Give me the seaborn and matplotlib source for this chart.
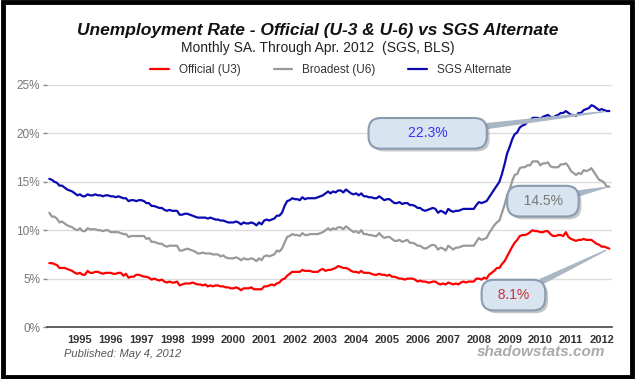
import pandas as pd
import numpy as np
import matplotlib
matplotlib.use("Agg")
import matplotlib.pyplot as plt
import matplotlib.dates as mdates
import matplotlib.patheffects as pe
import seaborn as sns

sns.set_style("white")
plt.rcParams["font.family"] = ["Liberation Sans", "DejaVu Sans"]

"Monthly data, Jan 1994 - Apr 2012 (read from the chart)"
u3 = [
    6.6, 6.6, 6.5, 6.4, 6.1, 6.1, 6.1, 6.0, 5.9, 5.8, 5.6, 5.5,
    5.6, 5.4, 5.4, 5.8, 5.6, 5.6, 5.7, 5.7, 5.6, 5.5, 5.6, 5.6,
    5.6, 5.5, 5.5, 5.6, 5.6, 5.3, 5.5, 5.1, 5.2, 5.2, 5.4, 5.4,
    5.3, 5.2, 5.2, 5.1, 4.9, 5.0, 4.9, 4.8, 4.9, 4.7, 4.6, 4.7,
    4.6, 4.6, 4.7, 4.3, 4.4, 4.5, 4.5, 4.5, 4.6, 4.5, 4.4, 4.4,
    4.3, 4.4, 4.2, 4.3, 4.2, 4.3, 4.3, 4.2, 4.2, 4.1, 4.1, 4.0,
    4.0, 4.1, 4.0, 3.8, 4.0, 4.0, 4.0, 4.1, 3.9, 3.9, 3.9, 3.9,
    4.2, 4.2, 4.3, 4.4, 4.3, 4.5, 4.6, 4.9, 5.0, 5.3, 5.5, 5.7,
    5.7, 5.7, 5.7, 5.9, 5.8, 5.8, 5.8, 5.7, 5.7, 5.7, 5.9, 6.0,
    5.8, 5.9, 5.9, 6.0, 6.1, 6.3, 6.2, 6.1, 6.1, 6.0, 5.8, 5.7,
    5.7, 5.6, 5.8, 5.6, 5.6, 5.6, 5.5, 5.4, 5.4, 5.5, 5.4, 5.4,
    5.3, 5.4, 5.2, 5.2, 5.1, 5.0, 5.0, 4.9, 5.0, 5.0, 5.0, 4.9,
    4.7, 4.8, 4.7, 4.7, 4.6, 4.6, 4.7, 4.7, 4.5, 4.4, 4.5, 4.4,
    4.6, 4.5, 4.4, 4.5, 4.4, 4.6, 4.7, 4.6, 4.7, 4.7, 4.7, 5.0,
    5.0, 4.9, 5.1, 5.0, 5.4, 5.6, 5.8, 6.1, 6.1, 6.5, 6.8, 7.3,
    7.8, 8.3, 8.7, 9.0, 9.4, 9.5, 9.5, 9.6, 9.8, 10.0, 9.9, 9.9,
    9.8, 9.8, 9.9, 9.9, 9.6, 9.4, 9.4, 9.5, 9.5, 9.4, 9.8, 9.3,
    9.1, 9.0, 8.9, 9.0, 9.0, 9.1, 9.0, 9.0, 9.0, 8.8, 8.6, 8.5,
    8.3, 8.3, 8.2, 8.1,
]
u6 = [
    11.8, 11.4, 11.4, 11.2, 10.8, 10.9, 10.7, 10.5, 10.4, 10.3, 10.1, 10.0,
    10.2, 9.9, 9.9, 10.2, 10.1, 10.1, 10.1, 10.0, 10.0, 9.9, 10.0, 10.0,
    9.8, 9.8, 9.8, 9.8, 9.7, 9.6, 9.6, 9.3, 9.4, 9.4, 9.4, 9.4,
    9.4, 9.4, 9.1, 9.2, 8.8, 8.8, 8.7, 8.6, 8.6, 8.4, 8.3, 8.4,
    8.4, 8.4, 8.4, 7.9, 7.9, 8.0, 8.1, 8.0, 7.9, 7.8, 7.6, 7.6,
    7.7, 7.6, 7.6, 7.6, 7.5, 7.5, 7.5, 7.3, 7.4, 7.2, 7.1, 7.1,
    7.1, 7.2, 7.1, 6.9, 7.1, 7.0, 7.0, 7.1, 7.0, 6.8, 7.1, 6.9,
    7.3, 7.4, 7.3, 7.4, 7.5, 7.9, 7.8, 8.1, 8.7, 9.3, 9.4, 9.6,
    9.5, 9.5, 9.4, 9.7, 9.5, 9.5, 9.6, 9.6, 9.6, 9.6, 9.7, 9.8,
    10.0, 10.2, 10.0, 10.2, 10.1, 10.3, 10.3, 10.1, 10.4, 10.2, 10.0, 9.8,
    9.9, 9.7, 10.0, 9.6, 9.6, 9.5, 9.5, 9.4, 9.4, 9.7, 9.4, 9.2,
    9.3, 9.3, 9.1, 8.9, 8.9, 9.0, 8.8, 8.9, 9.0, 8.7, 8.7, 8.6,
    8.4, 8.4, 8.2, 8.1, 8.2, 8.4, 8.5, 8.4, 8.0, 8.2, 8.1, 7.9,
    8.4, 8.2, 8.0, 8.2, 8.2, 8.3, 8.4, 8.4, 8.4, 8.4, 8.4, 8.8,
    9.2, 9.0, 9.1, 9.2, 9.7, 10.1, 10.5, 10.8, 11.0, 11.8, 12.6, 13.6,
    14.2, 15.1, 15.7, 15.8, 16.4, 16.5, 16.5, 16.7, 16.7, 17.1, 17.1, 17.1,
    16.7, 16.9, 16.9, 17.0, 16.6, 16.5, 16.5, 16.5, 16.8, 16.8, 16.9, 16.6,
    16.1, 15.9, 15.7, 15.9, 15.8, 16.2, 16.1, 16.2, 16.4, 16.0, 15.6, 15.2,
    15.1, 14.9, 14.5, 14.5,
]
sgs = [
    15.3, 15.2, 15.0, 14.9, 14.6, 14.6, 14.4, 14.2, 14.1, 14.0, 13.8, 13.6,
    13.7, 13.5, 13.5, 13.7, 13.6, 13.6, 13.7, 13.6, 13.6, 13.5, 13.6, 13.6,
    13.5, 13.5, 13.4, 13.5, 13.4, 13.3, 13.3, 13.0, 13.1, 13.1, 13.0, 13.1,
    13.1, 13.0, 12.8, 12.8, 12.5, 12.5, 12.4, 12.3, 12.3, 12.1, 12.0, 12.1,
    12.0, 12.0, 12.0, 11.6, 11.6, 11.7, 11.7, 11.6, 11.5, 11.4, 11.3, 11.3,
    11.3, 11.3, 11.2, 11.3, 11.2, 11.1, 11.1, 11.0, 11.0, 10.9, 10.8, 10.8,
    10.8, 10.9, 10.8, 10.6, 10.8, 10.7, 10.7, 10.8, 10.7, 10.5, 10.8, 10.6,
    11.0, 11.1, 11.0, 11.1, 11.2, 11.5, 11.5, 11.8, 12.5, 13.0, 13.1, 13.3,
    13.2, 13.2, 13.1, 13.4, 13.2, 13.3, 13.3, 13.3, 13.3, 13.4, 13.5, 13.6,
    13.8, 14.0, 13.8, 14.0, 13.9, 14.1, 14.1, 13.9, 14.2, 14.0, 13.8, 13.7,
    13.8, 13.6, 13.8, 13.5, 13.5, 13.4, 13.4, 13.3, 13.3, 13.5, 13.3, 13.1,
    13.2, 13.2, 13.0, 12.8, 12.8, 12.9, 12.7, 12.8, 12.8, 12.6, 12.6, 12.5,
    12.3, 12.3, 12.1, 12.0, 12.1, 12.2, 12.3, 12.2, 11.8, 12.0, 11.9, 11.7,
    12.2, 12.0, 11.9, 12.0, 12.0, 12.1, 12.2, 12.2, 12.2, 12.2, 12.2, 12.6,
    12.9, 12.8, 12.9, 13.0, 13.4, 13.8, 14.2, 14.6, 15.0, 15.8, 16.8, 17.9,
    18.6, 19.4, 19.9, 20.1, 20.6, 20.8, 20.9, 21.2, 21.3, 21.6, 21.6, 21.6,
    21.5, 21.7, 21.8, 21.9, 21.7, 21.6, 21.8, 21.9, 22.1, 22.1, 22.3, 22.1,
    21.9, 21.9, 21.8, 22.1, 22.1, 22.4, 22.5, 22.6, 22.9, 22.8, 22.6, 22.4,
    22.5, 22.4, 22.3, 22.3,
]
dates = pd.date_range("1994-01-01", periods=len(u3), freq="MS")
year_ticks = pd.date_range("1995-01-01", "2012-01-01", freq="YS")
y_ticks = [0, 5, 10, 15, 20, 25]

labels = ["Official (U3)", "Broadest (U6)", "SGS Alternate"]
colors = ["#ff0000", "#999999", "#0a0ab0"]

fig = plt.figure(figsize=(6.36, 3.79), dpi=100)
ax = fig.add_axes([0.074, 0.137, 0.888, 0.639])

for vals, lab, col in zip([u3, u6, sgs], labels, colors):
    sns.lineplot(x=dates, y=vals, ax=ax, color=col, linewidth=1.6, label=lab)

ax.set_xlim(pd.Timestamp("1993-12-05"), pd.Timestamp("2012-05-01"))
ax.set_ylim(0, 25)
ax.set_xticks(year_ticks)
ax.xaxis.set_major_formatter(mdates.DateFormatter("%Y"))
ax.set_yticks(y_ticks)
ax.set_yticklabels([f"{v}%" for v in y_ticks])
ax.set_xlabel("")
ax.set_ylabel("")

for s in ["top", "right", "left"]:
    ax.spines[s].set_visible(False)
ax.spines["bottom"].set_color("#444444")
ax.spines["bottom"].set_linewidth(1.2)
ax.grid(axis="y", color="#dddddd", linewidth=1)
ax.grid(axis="x", visible=False)
ax.tick_params(axis="x", direction="out", length=4, width=1, color="#444444",
               labelsize=8, labelcolor="#333333", pad=2)
ax.tick_params(axis="y", direction="out", length=3, width=1, color="#888888",
               labelsize=8.5, labelcolor="#777777", pad=2, left=True)
for t in ax.get_xticklabels():
    t.set_fontweight("bold")

ax.get_legend().remove()
handles, labs = ax.get_legend_handles_labels()
fig.legend(handles, labs, loc="center", bbox_to_anchor=(0.52, 0.815), ncol=3,
           frameon=False, fontsize=8.5, handlelength=1.6, columnspacing=2.8,
           labelcolor="#333333")

fig.text(0.5, 0.92, "Unemployment Rate - Official (U-3 & U-6) vs SGS Alternate",
         ha="center", va="center", fontsize=12.5, fontweight="bold",
         fontstyle="italic", color="#111111")
fig.text(0.5, 0.874, "Monthly SA. Through Apr. 2012  (SGS, BLS)", ha="center",
         va="center", fontsize=10, color="#222222")
fig.text(0.1, 0.065, "Published: May 4, 2012", ha="left", va="center",
         fontsize=8, fontstyle="italic", color="#555555")
fig.text(0.952, 0.07, "shadowstats.com", ha="right", va="center",
         fontsize=11, fontweight="bold", fontstyle="italic", color="#aaaaaa")

"Callouts for the latest values"
callouts = [
    (sgs, "        22.3%        ", "#3333ee", pd.Timestamp("2006-05-01"), 20.0),
    (u6, "  14.5%  ", "#777777", pd.Timestamp("2010-02-01"), 13.0),
    (u3, "  8.1%  ", "#cc3333", pd.Timestamp("2009-02-15"), 3.3),
]
for vals, txt, tcol, tx, ty in callouts:
    an = ax.annotate(txt, xy=(dates[-1], vals[-1]), xytext=(tx, ty),
                     textcoords="data", ha="center", va="center", fontsize=10,
                     color=tcol, zorder=5,
                     bbox=dict(boxstyle="round,pad=0.6,rounding_size=0.9",
                               fc="#d9e4f1", ec="#8a9bb0", lw=1.5),
                     arrowprops=dict(arrowstyle="wedge,tail_width=0.35", fc="#a9b6c4",
                                     ec="#a9b6c4", shrinkA=0, shrinkB=3))
    an.get_bbox_patch().set_path_effects([pe.withSimplePatchShadow(offset=(2, -2), alpha=0.3)])

"Outer frame"
fig.patches.append(plt.Rectangle((0.004, 0.006), 0.99, 0.988, transform=fig.transFigure,
                                 fill=False, ec="black", lw=3.5))

fig.savefig("out.png", dpi=100, facecolor="white")
